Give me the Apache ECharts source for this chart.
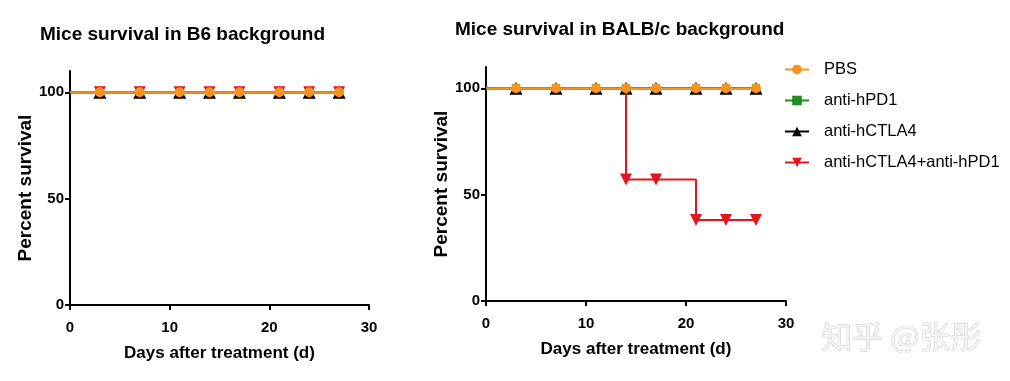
<!DOCTYPE html>
<html><head><meta charset="utf-8">
<script src="https://cdn.jsdelivr.net/npm/echarts@6/dist/echarts.min.js"></script>
<style>html,body{margin:0;padding:0;background:#fff}#c{width:1010px;height:381px}</style>
</head><body><div id="c"></div>
<script>
const days = [3, 7, 11, 14, 17, 21, 24, 27];
const seriesNames = ['PBS', 'anti-hPD1', 'anti-hCTLA4', 'anti-hCTLA4+anti-hPD1'];
// B6 background
const b6PBS   = [100, 100, 100, 100, 100, 100, 100, 100];
const b6PD1   = [100, 100, 100, 100, 100, 100, 100, 100];
const b6CTLA4 = [100, 100, 100, 100, 100, 100, 100, 100];
const b6Combo = [100, 100, 100, 100, 100, 100, 100, 100];
// BALB/c background
const balbPBS   = [100, 100, 100, 100, 100, 100, 100, 100];
const balbPD1   = [100, 100, 100, 100, 100, 100, 100, 100];
const balbCTLA4 = [100, 100, 100, 100, 100, 100, 100, 100];
const balbCombo = [100, 100, 100, 57.1, 57.1, 38.1, 38.1, 38.1];
const balbComboMarked = [false, false, false, true, true, true, true, true];
const yTicks = [0, 50, 100];
const xTicks = [0, 10, 20, 30];

const colors = ['#f7931e', '#1f8f1f', '#000000', '#e3161d'];
const symbols = ['circle', 'rect', 'triangle', 'triangle'];
const rotates = [0, 0, 0, 180];
const sizes = [10, 8, 13, 12];

function mk(values, marked) {
  const d = [{ value: [0, values[0]], symbol: 'none' }];
  values.forEach((v, i) => {
    const item = { value: [days[i], v] };
    if (marked && !marked[i]) item.symbol = 'none';
    d.push(item);
  });
  return d;
}

const font = 'Liberation Sans, Arial, sans-serif';
function xAx(idx) {
  return {
    type: 'value', gridIndex: idx, min: 0, max: 30, interval: 10,
    name: 'Days after treatment (d)', nameLocation: 'middle', nameGap: 40,
    nameTextStyle: { fontFamily: font, fontWeight: 'bold', fontSize: 17, color: '#000' },
    axisLine: { lineStyle: { color: '#000', width: 2 } },
    axisTick: { show: true, length: 5, lineStyle: { color: '#000', width: 2 }, customValues: xTicks },
    axisLabel: { fontFamily: font, fontWeight: 'bold', fontSize: 15, color: '#000', margin: 15, customValues: xTicks },
    splitLine: { show: false }
  };
}
function yAx(idx) {
  return {
    type: 'value', gridIndex: idx, min: 0, max: 110, interval: 50,
    name: 'Percent survival', nameLocation: 'middle', nameGap: 34,
    nameTextStyle: { fontFamily: font, fontWeight: 'bold', fontSize: 19, color: '#000' },
    axisLine: { show: true, lineStyle: { color: '#000', width: 2 } },
    axisTick: { show: true, length: 5, lineStyle: { color: '#000', width: 2 }, customValues: yTicks },
    axisLabel: { fontFamily: font, fontWeight: 'bold', fontSize: 15, color: '#000', margin: 6, customValues: yTicks },
    splitLine: { show: false }
  };
}

const order = [1, 2, 3, 0]; // draw PBS on top
function ser(gi, arrs, markedArr) {
  return order.map(k => ({
    name: seriesNames[k], type: 'line', xAxisIndex: gi, yAxisIndex: gi,
    step: 'end', data: mk(arrs[k], markedArr[k]),
    symbol: symbols[k], symbolRotate: rotates[k], symbolSize: sizes[k],
    color: colors[k], lineStyle: { width: 2, color: colors[k] },
    itemStyle: { color: colors[k] }, z: 2 + order.indexOf(k),
    animation: false
  }));
}

const chart = echarts.init(document.getElementById('c'));
chart.setOption({
  animation: false,
  title: [
    { text: 'Mice survival in B6 background', left: 35, top: 20,
      textStyle: { fontFamily: font, fontWeight: 'bold', fontSize: 19, color: '#000' } },
    { text: 'Mice survival in BALB/c background', left: 450, top: 15,
      textStyle: { fontFamily: font, fontWeight: 'bold', fontSize: 19, color: '#000' } }
  ],
  grid: [
    { left: 70, top: 71, width: 299, height: 234 },
    { left: 486, top: 67, width: 300, height: 234 }
  ],
  xAxis: [xAx(0), xAx(1)],
  yAxis: [yAx(0), yAx(1)],
  legend: {
    orient: 'vertical', left: 779, top: 56, itemWidth: 24, itemHeight: 12, itemGap: 14,
    data: seriesNames,
    textStyle: { fontFamily: font, fontSize: 16.5, color: '#000', padding: [0, 0, 0, 10] }
  },
  graphic: [{
    type: 'text', left: 821, top: 320,
    style: { text: '知乎 @张彤', fontFamily: 'Noto Sans CJK SC', fontSize: 31, fill: '#f4f4f4',
      stroke: '#bdbdbd', lineWidth: 0.7, shadowColor: 'rgba(0,0,0,0.35)', shadowOffsetX: 1, shadowOffsetY: 2, shadowBlur: 1 }
  }],
  series: [
    ...ser(0, [b6PBS, b6PD1, b6CTLA4, b6Combo], [null, null, null, null]),
    ...ser(1, [balbPBS, balbPD1, balbCTLA4, balbCombo], [null, null, null, balbComboMarked])
  ]
});
</script></body></html>
